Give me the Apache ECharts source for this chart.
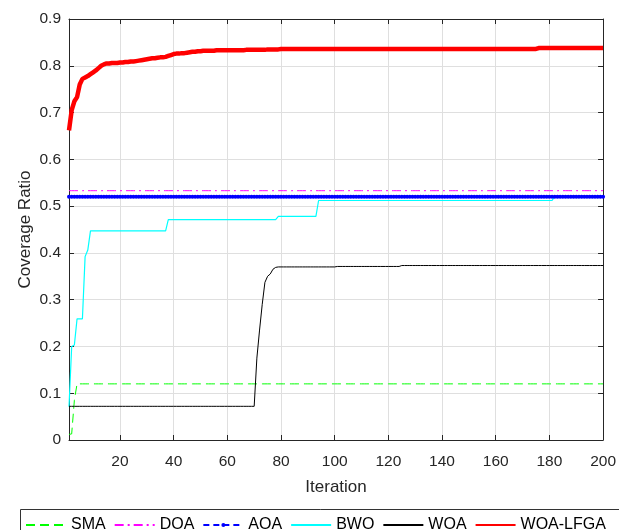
<!DOCTYPE html>
<html>
<head>
<meta charset="utf-8">
<script src="https://cdn.jsdelivr.net/npm/echarts@6/dist/echarts.min.js"></script>
<style>
  html, body { margin: 0; padding: 0; background: #ffffff; }
  #chart { width: 619px; height: 530px; }
</style>
</head>
<body>
<div id="chart"></div>
<script>
// Coverage ratio per iteration for each optimiser (iterations 1..200)
const seriesNames = ['SMA', 'DOA', 'AOA', 'BWO', 'WOA', 'WOA-LFGA'];

const sma = [
  0.012,0.013,0.085,0.12,0.12,0.12,0.12,0.12,0.12,0.12, 0.12,0.12,0.12,0.12,0.12,0.12,0.12,0.12,0.12,0.12,
  0.12,0.12,0.12,0.12,0.12,0.12,0.12,0.12,0.12,0.12, 0.12,0.12,0.12,0.12,0.12,0.12,0.12,0.12,0.12,0.12,
  0.12,0.12,0.12,0.12,0.12,0.12,0.12,0.12,0.12,0.12, 0.12,0.12,0.12,0.12,0.12,0.12,0.12,0.12,0.12,0.12,
  0.12,0.12,0.12,0.12,0.12,0.12,0.12,0.12,0.12,0.12, 0.12,0.12,0.12,0.12,0.12,0.12,0.12,0.12,0.12,0.12,
  0.12,0.12,0.12,0.12,0.12,0.12,0.12,0.12,0.12,0.12, 0.12,0.12,0.12,0.12,0.12,0.12,0.12,0.12,0.12,0.12,
  0.12,0.12,0.12,0.12,0.12,0.12,0.12,0.12,0.12,0.12, 0.12,0.12,0.12,0.12,0.12,0.12,0.12,0.12,0.12,0.12,
  0.12,0.12,0.12,0.12,0.12,0.12,0.12,0.12,0.12,0.12, 0.12,0.12,0.12,0.12,0.12,0.12,0.12,0.12,0.12,0.12,
  0.12,0.12,0.12,0.12,0.12,0.12,0.12,0.12,0.12,0.12, 0.12,0.12,0.12,0.12,0.12,0.12,0.12,0.12,0.12,0.12,
  0.12,0.12,0.12,0.12,0.12,0.12,0.12,0.12,0.12,0.12, 0.12,0.12,0.12,0.12,0.12,0.12,0.12,0.12,0.12,0.12,
  0.12,0.12,0.12,0.12,0.12,0.12,0.12,0.12,0.12,0.12, 0.12,0.12,0.12,0.12,0.12,0.12,0.12,0.12,0.12,0.12
];

const doa = [
  0.533,0.533,0.533,0.533,0.533,0.533,0.533,0.533,0.533,0.533, 0.533,0.533,0.533,0.533,0.533,0.533,0.533,0.533,0.533,0.533,
  0.533,0.533,0.533,0.533,0.533,0.533,0.533,0.533,0.533,0.533, 0.533,0.533,0.533,0.533,0.533,0.533,0.533,0.533,0.533,0.533,
  0.533,0.533,0.533,0.533,0.533,0.533,0.533,0.533,0.533,0.533, 0.533,0.533,0.533,0.533,0.533,0.533,0.533,0.533,0.533,0.533,
  0.533,0.533,0.533,0.533,0.533,0.533,0.533,0.533,0.533,0.533, 0.533,0.533,0.533,0.533,0.533,0.533,0.533,0.533,0.533,0.533,
  0.533,0.533,0.533,0.533,0.533,0.533,0.533,0.533,0.533,0.533, 0.533,0.533,0.533,0.533,0.533,0.533,0.533,0.533,0.533,0.533,
  0.533,0.533,0.533,0.533,0.533,0.533,0.533,0.533,0.533,0.533, 0.533,0.533,0.533,0.533,0.533,0.533,0.533,0.533,0.533,0.533,
  0.533,0.533,0.533,0.533,0.533,0.533,0.533,0.533,0.533,0.533, 0.533,0.533,0.533,0.533,0.533,0.533,0.533,0.533,0.533,0.533,
  0.533,0.533,0.533,0.533,0.533,0.533,0.533,0.533,0.533,0.533, 0.533,0.533,0.533,0.533,0.533,0.533,0.533,0.533,0.533,0.533,
  0.533,0.533,0.533,0.533,0.533,0.533,0.533,0.533,0.533,0.533, 0.533,0.533,0.533,0.533,0.533,0.533,0.533,0.533,0.533,0.533,
  0.533,0.533,0.533,0.533,0.533,0.533,0.533,0.533,0.533,0.533, 0.533,0.533,0.533,0.533,0.533,0.533,0.533,0.533,0.533,0.533
];

const aoa = [
  0.52,0.52,0.52,0.52,0.52,0.52,0.52,0.52,0.52,0.52, 0.52,0.52,0.52,0.52,0.52,0.52,0.52,0.52,0.52,0.52,
  0.52,0.52,0.52,0.52,0.52,0.52,0.52,0.52,0.52,0.52, 0.52,0.52,0.52,0.52,0.52,0.52,0.52,0.52,0.52,0.52,
  0.52,0.52,0.52,0.52,0.52,0.52,0.52,0.52,0.52,0.52, 0.52,0.52,0.52,0.52,0.52,0.52,0.52,0.52,0.52,0.52,
  0.52,0.52,0.52,0.52,0.52,0.52,0.52,0.52,0.52,0.52, 0.52,0.52,0.52,0.52,0.52,0.52,0.52,0.52,0.52,0.52,
  0.52,0.52,0.52,0.52,0.52,0.52,0.52,0.52,0.52,0.52, 0.52,0.52,0.52,0.52,0.52,0.52,0.52,0.52,0.52,0.52,
  0.52,0.52,0.52,0.52,0.52,0.52,0.52,0.52,0.52,0.52, 0.52,0.52,0.52,0.52,0.52,0.52,0.52,0.52,0.52,0.52,
  0.52,0.52,0.52,0.52,0.52,0.52,0.52,0.52,0.52,0.52, 0.52,0.52,0.52,0.52,0.52,0.52,0.52,0.52,0.52,0.52,
  0.52,0.52,0.52,0.52,0.52,0.52,0.52,0.52,0.52,0.52, 0.52,0.52,0.52,0.52,0.52,0.52,0.52,0.52,0.52,0.52,
  0.52,0.52,0.52,0.52,0.52,0.52,0.52,0.52,0.52,0.52, 0.52,0.52,0.52,0.52,0.52,0.52,0.52,0.52,0.52,0.52,
  0.52,0.52,0.52,0.52,0.52,0.52,0.52,0.52,0.52,0.52, 0.52,0.52,0.52,0.52,0.52,0.52,0.52,0.52,0.52,0.52
];

const bwo = [
  0.071,0.2,0.203,0.259,0.259,0.259,0.392,0.406,0.447,0.447, 0.447,0.447,0.447,0.447,0.447,0.447,0.447,0.447,0.447,0.447,
  0.447,0.447,0.447,0.447,0.447,0.447,0.447,0.447,0.447,0.447, 0.447,0.447,0.447,0.447,0.447,0.447,0.447,0.471,0.471,0.471,
  0.471,0.471,0.471,0.471,0.471,0.471,0.471,0.471,0.471,0.471, 0.471,0.471,0.471,0.471,0.471,0.471,0.471,0.471,0.471,0.471,
  0.471,0.471,0.471,0.471,0.471,0.471,0.471,0.471,0.471,0.471, 0.471,0.471,0.471,0.471,0.471,0.471,0.471,0.471,0.478,0.478,
  0.478,0.478,0.478,0.478,0.478,0.478,0.478,0.478,0.478,0.478, 0.478,0.478,0.478,0.512,0.512,0.512,0.512,0.512,0.512,0.512,
  0.512,0.512,0.512,0.512,0.512,0.512,0.512,0.512,0.512,0.512, 0.512,0.512,0.512,0.512,0.512,0.512,0.512,0.512,0.512,0.512,
  0.512,0.512,0.512,0.512,0.512,0.512,0.512,0.512,0.512,0.512, 0.512,0.512,0.512,0.512,0.512,0.512,0.512,0.512,0.512,0.512,
  0.512,0.512,0.512,0.512,0.512,0.512,0.512,0.512,0.512,0.512, 0.512,0.512,0.512,0.512,0.512,0.512,0.512,0.512,0.512,0.512,
  0.512,0.512,0.512,0.512,0.512,0.512,0.512,0.512,0.512,0.512, 0.512,0.512,0.512,0.512,0.512,0.512,0.512,0.512,0.512,0.512,
  0.512,0.521,0.521,0.521,0.521,0.521,0.521,0.521,0.521,0.521, 0.521,0.521,0.521,0.521,0.521,0.521,0.521,0.521,0.521,0.521
];

const woa = [
  0.072,0.072,0.072,0.072,0.072,0.072,0.072,0.072,0.072,0.072, 0.072,0.072,0.072,0.072,0.072,0.072,0.072,0.072,0.072,0.072,
  0.072,0.072,0.072,0.072,0.072,0.072,0.072,0.072,0.072,0.072, 0.072,0.072,0.072,0.072,0.072,0.072,0.072,0.072,0.072,0.072,
  0.072,0.072,0.072,0.072,0.072,0.072,0.072,0.072,0.072,0.072, 0.072,0.072,0.072,0.072,0.072,0.072,0.072,0.072,0.072,0.072,
  0.072,0.072,0.072,0.072,0.072,0.072,0.072,0.072,0.072,0.072, 0.175,0.235,0.29,0.337,0.35,0.355,0.365,0.369,0.37,0.37,
  0.37,0.37,0.37,0.37,0.37,0.37,0.37,0.37,0.37,0.37, 0.37,0.37,0.37,0.37,0.37,0.37,0.37,0.37,0.37,0.37,
  0.371,0.371,0.371,0.371,0.371,0.371,0.371,0.371,0.371,0.371, 0.371,0.371,0.371,0.371,0.371,0.371,0.371,0.371,0.371,0.371,
  0.371,0.371,0.371,0.371,0.373,0.373,0.373,0.373,0.373,0.373, 0.373,0.373,0.373,0.373,0.373,0.373,0.373,0.373,0.373,0.373,
  0.373,0.373,0.373,0.373,0.373,0.373,0.373,0.373,0.373,0.373, 0.373,0.373,0.373,0.373,0.373,0.373,0.373,0.373,0.373,0.373,
  0.373,0.373,0.373,0.373,0.373,0.373,0.373,0.373,0.373,0.373, 0.373,0.373,0.373,0.373,0.373,0.373,0.373,0.373,0.373,0.373,
  0.373,0.373,0.373,0.373,0.373,0.373,0.373,0.373,0.373,0.373, 0.373,0.373,0.373,0.373,0.373,0.373,0.373,0.373,0.373,0.373
];

const woaLfga = [
  0.662,0.705,0.724,0.733,0.76,0.772,0.775,0.778,0.782,0.786, 0.79,0.795,0.8,0.803,0.805,0.805,0.806,0.806,0.806,0.807,
  0.807,0.808,0.808,0.809,0.809,0.81,0.811,0.812,0.813,0.814, 0.815,0.816,0.816,0.817,0.818,0.818,0.819,0.821,0.823,0.825,
  0.826,0.826,0.827,0.827,0.828,0.829,0.83,0.83,0.831,0.831, 0.832,0.832,0.832,0.832,0.832,0.833,0.833,0.833,0.833,0.833,
  0.833,0.833,0.833,0.833,0.833,0.833,0.834,0.834,0.834,0.834, 0.834,0.834,0.834,0.834,0.835,0.835,0.835,0.835,0.835,0.836,
  0.836,0.836,0.836,0.836,0.836,0.836,0.836,0.836,0.836,0.836, 0.836,0.836,0.836,0.836,0.836,0.836,0.836,0.836,0.836,0.836,
  0.836,0.836,0.836,0.836,0.836,0.836,0.836,0.836,0.836,0.836, 0.836,0.836,0.836,0.836,0.836,0.836,0.836,0.836,0.836,0.836,
  0.836,0.836,0.836,0.836,0.836,0.836,0.836,0.836,0.836,0.836, 0.836,0.836,0.836,0.836,0.836,0.836,0.836,0.836,0.836,0.836,
  0.836,0.836,0.836,0.836,0.836,0.836,0.836,0.836,0.836,0.836, 0.836,0.836,0.836,0.836,0.836,0.836,0.836,0.836,0.836,0.836,
  0.836,0.836,0.836,0.836,0.836,0.836,0.836,0.836,0.836,0.836, 0.836,0.836,0.836,0.836,0.836,0.838,0.838,0.838,0.838,0.838,
  0.838,0.838,0.838,0.838,0.838,0.838,0.838,0.838,0.838,0.838, 0.838,0.838,0.838,0.838,0.838,0.838,0.838,0.838,0.838,0.838
];

// Axis ticks
const xTicks = [20, 40, 60, 80, 100, 120, 140, 160, 180, 200];
const yTickLabels = ['0', '0.1', '0.2', '0.3', '0.4', '0.5', '0.6', '0.7', '0.8', '0.9'];

const FONT = '"Liberation Sans", Arial, Helvetica, sans-serif';
const AXIS_COLOR = '#262626';
const GRID_COLOR = '#dfdfdf';

// pair each value with its iteration number (1-based)
const toPoints = (values) => values.map((v, i) => [i + 1, v]);

const chart = echarts.init(document.getElementById('chart'), null, { renderer: 'canvas' });

// top / right frame axes: ticks only
const frameX = {
  type: 'value', position: 'top', min: 1, max: 200,
  axisLine: { show: true, onZero: false, lineStyle: { color: AXIS_COLOR, width: 1 } },
  axisTick: { show: true, inside: true, length: 5, customValues: xTicks, lineStyle: { color: AXIS_COLOR } },
  axisLabel: { show: false },
  splitLine: { show: false }
};

// legend entries: only AOA shows a marker
const hiddenMarker = { color: 'rgba(0,0,0,0)', borderWidth: 0, opacity: 0 };
const legendData = seriesNames.map((n) =>
  n === 'AOA' ? { name: n } : { name: n, itemStyle: hiddenMarker }
);

chart.setOption({
  animation: false,
  backgroundColor: '#ffffff',
  textStyle: { fontFamily: FONT },
  grid: { left: 69, top: 19, width: 537, height: 421, containLabel: false },
  xAxis: [
    {
      type: 'value', position: 'bottom', min: 1, max: 200,
      name: 'Iteration', nameLocation: 'middle', nameGap: 39, nameMoveOverlap: false,
      nameTextStyle: { fontSize: 17, color: AXIS_COLOR, fontFamily: FONT },
      axisLine: { show: true, onZero: false, lineStyle: { color: AXIS_COLOR, width: 1 } },
      axisTick: { show: true, inside: true, length: 5, customValues: xTicks, lineStyle: { color: AXIS_COLOR } },
      axisLabel: { customValues: xTicks, margin: 14, fontSize: 15.5, color: AXIS_COLOR, fontFamily: FONT },
      splitLine: { show: true, lineStyle: { color: GRID_COLOR, width: 1 } }
    },
    frameX
  ],
  yAxis: [
    {
      type: 'value', position: 'left', min: 0, max: 0.9, interval: 0.1,
      name: 'Coverage Ratio', nameLocation: 'middle', nameGap: 35, nameMoveOverlap: false,
      nameTextStyle: { fontSize: 17, color: AXIS_COLOR, fontFamily: FONT },
      axisLine: { show: true, onZero: false, lineStyle: { color: AXIS_COLOR, width: 1 } },
      axisTick: { show: true, inside: true, length: 5, lineStyle: { color: AXIS_COLOR } },
      axisLabel: {
        margin: 8, fontSize: 15.5, color: AXIS_COLOR, fontFamily: FONT,
        formatter: (v) => yTickLabels[Math.round(v * 10)]
      },
      splitLine: { show: true, lineStyle: { color: GRID_COLOR, width: 1 } }
    },
    {
      type: 'value', position: 'right', min: 0, max: 0.9, interval: 0.1,
      axisLine: { show: true, onZero: false, lineStyle: { color: AXIS_COLOR, width: 1 } },
      axisTick: { show: true, inside: true, length: 5, lineStyle: { color: AXIS_COLOR } },
      axisLabel: { show: false },
      splitLine: { show: false }
    }
  ],
  legend: {
    data: legendData,
    orient: 'horizontal',
    left: 20, top: 512, width: 599,
    itemWidth: 40, itemHeight: 5, itemGap: 8,
    padding: [5, 0, 5, 5],
    textStyle: { fontSize: 16, color: '#000000', fontFamily: FONT }
  },
  // legend frame (runs past the bottom and right edges of the canvas)
  graphic: [{
    type: 'rect', z: 0,
    shape: { x: 20.5, y: 509.5, width: 620, height: 40 },
    style: { fill: '#ffffff', stroke: '#333333', lineWidth: 1 },
    silent: true
  }],
  series: [
    {
      name: 'SMA', type: 'line', data: toPoints(sma), symbol: 'none',
      lineStyle: { color: '#00ff00', width: 1, type: [9, 5] },
      itemStyle: { color: '#00ff00' }
    },
    {
      name: 'DOA', type: 'line', data: toPoints(doa), symbol: 'none',
      lineStyle: { color: '#ff00ff', width: 1, type: [9, 4, 2, 4] },
      itemStyle: { color: '#ff00ff' }
    },
    {
      name: 'AOA', type: 'line', data: toPoints(aoa),
      symbol: 'circle', symbolSize: 4, showSymbol: true, showAllSymbol: true,
      lineStyle: { color: '#0000ff', width: 1, type: [6, 4] },
      itemStyle: { color: '#0000ff', borderWidth: 0 }
    },
    {
      name: 'BWO', type: 'line', data: toPoints(bwo), symbol: 'none',
      lineStyle: { color: '#00ffff', width: 1.2 },
      itemStyle: { color: '#00ffff' }
    },
    {
      name: 'WOA', type: 'line', data: toPoints(woa), symbol: 'none',
      lineStyle: { color: '#000000', width: 1 },
      itemStyle: { color: '#000000' }
    },
    {
      name: 'WOA-LFGA', type: 'line', data: toPoints(woaLfga), symbol: 'none',
      lineStyle: { color: '#ff0000', width: 4.5 },
      itemStyle: { color: '#ff0000' }
    }
  ]
});
</script>
</body>
</html>
